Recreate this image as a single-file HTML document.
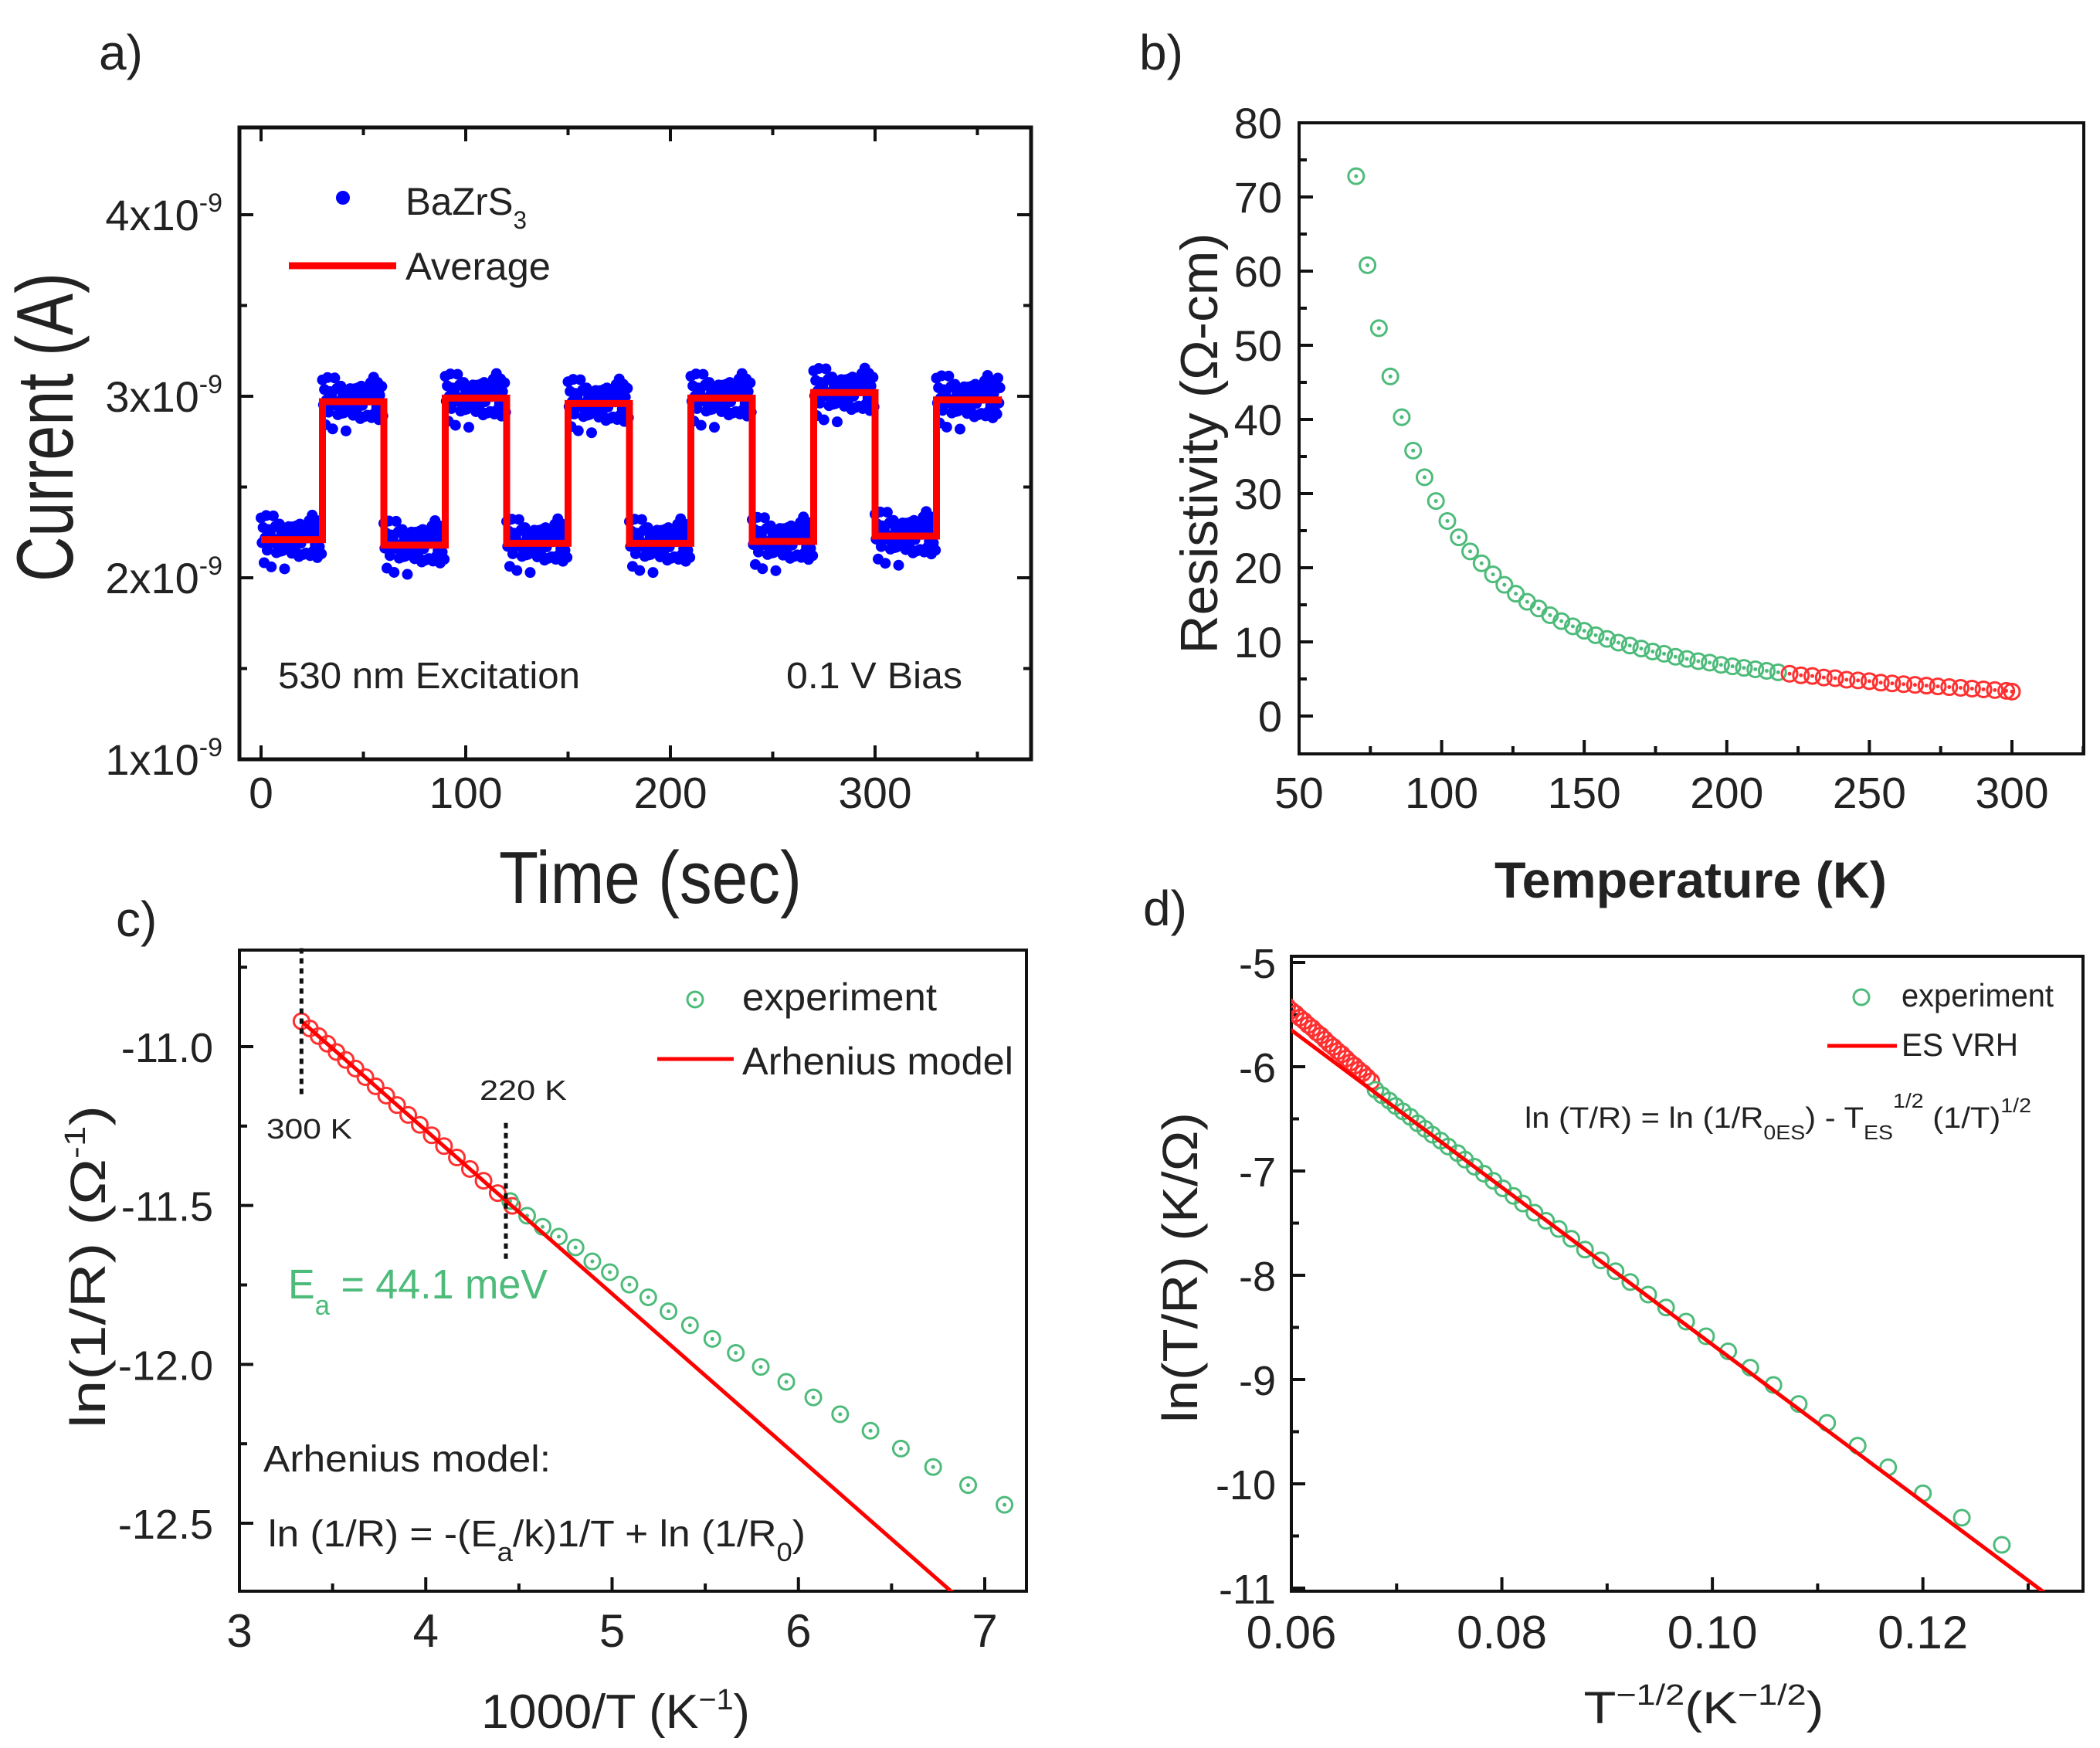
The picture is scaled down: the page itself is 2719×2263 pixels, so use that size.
<!DOCTYPE html>
<html><head><meta charset="utf-8"><style>
html,body{margin:0;padding:0;background:#fff}
svg{display:block}
text{font-family:"Liberation Sans",Arial,sans-serif;fill:#222}
</style></head><body>
<svg id="fig" xmlns="http://www.w3.org/2000/svg" width="2719" height="2263" viewBox="0 0 2719 2263">
<defs>
<clipPath id="clipC"><rect x="310" y="1230" width="1019" height="830"/></clipPath>
<clipPath id="clipD"><rect x="1672" y="1238" width="1025" height="822"/></clipPath>
</defs>
<rect width="2719" height="2263" fill="#fff"/>

<g>
<text x="128" y="90" font-size="64">a)</text>
<g font-size="56" text-anchor="end">
<text x="288" y="298">4x10<tspan font-size="34" dy="-24">-9</tspan></text>
<text x="288" y="533">3x10<tspan font-size="34" dy="-24">-9</tspan></text>
<text x="288" y="768">2x10<tspan font-size="34" dy="-24">-9</tspan></text>
<text x="288" y="1003">1x10<tspan font-size="34" dy="-24">-9</tspan></text>
</g>
<g font-size="57" text-anchor="middle">
<text x="338" y="1046">0</text><text x="603" y="1046">100</text><text x="868" y="1046">200</text><text x="1133" y="1046">300</text>
</g>
<text transform="translate(94,553) rotate(-90)" text-anchor="middle" font-size="104" textLength="400" lengthAdjust="spacingAndGlyphs">Current (A)</text>
<text x="842" y="1169" text-anchor="middle" font-size="96" textLength="392" lengthAdjust="spacingAndGlyphs">Time (sec)</text>
<circle cx="444" cy="256" r="9" fill="#0000ff"/>
<text x="525" y="278" font-size="50" textLength="157" lengthAdjust="spacingAndGlyphs">BaZrS<tspan font-size="32" baseline-shift="sub">3</tspan></text>
<line x1="374" y1="344" x2="513" y2="344" stroke="#ff0000" stroke-width="9"/>
<text x="525" y="362" font-size="50" textLength="188" lengthAdjust="spacingAndGlyphs">Average</text>
<text x="360" y="891" font-size="48" textLength="391" lengthAdjust="spacingAndGlyphs">530 nm Excitation</text>
<text x="1018" y="891" font-size="48" textLength="228" lengthAdjust="spacingAndGlyphs">0.1 V Bias</text>
</g>

<g>
<text x="1475" y="90" font-size="64">b)</text>
<text transform="translate(1576,574) rotate(-90)" text-anchor="middle" font-size="68" textLength="545" lengthAdjust="spacingAndGlyphs">Resistivity (Ω-cm)</text>
<text x="2189" y="1162" text-anchor="middle" font-size="66" font-weight="bold" textLength="508" lengthAdjust="spacingAndGlyphs" fill="#222">Temperature (K)</text>
</g>

<g>
<text x="150" y="1212" font-size="64">c)</text>
<text transform="translate(136,1640) rotate(-90)" text-anchor="middle" font-size="64" textLength="418" lengthAdjust="spacingAndGlyphs">ln(1/R) (Ω<tspan font-size="38" dy="-26">-1</tspan><tspan dy="26">)</tspan></text>
<text x="797" y="2237" text-anchor="middle" font-size="62" textLength="348" lengthAdjust="spacingAndGlyphs">1000/T (K<tspan font-size="38" dy="-24">−1</tspan><tspan dy="24">)</tspan></text>
<text x="345" y="1474" font-size="36" textLength="111" lengthAdjust="spacingAndGlyphs">300 K</text>
<text x="621" y="1424" font-size="36" textLength="113" lengthAdjust="spacingAndGlyphs">220 K</text>
<text x="373" y="1681" font-size="54" fill="#4dbb7a" style="fill:#4dbb7a" textLength="336" lengthAdjust="spacingAndGlyphs">E<tspan font-size="36" baseline-shift="sub">a</tspan> = 44.1 meV</text>
<text x="341" y="1905" font-size="48" textLength="372" lengthAdjust="spacingAndGlyphs">Arhenius model:</text>
<text x="347" y="2002" font-size="48" textLength="696" lengthAdjust="spacingAndGlyphs">ln (1/R) = -(E<tspan font-size="34" baseline-shift="sub">a</tspan>/k)1/T + ln (1/R<tspan font-size="34" baseline-shift="sub">0</tspan>)</text>
<circle cx="900" cy="1294" r="10" fill="none" stroke="#4dbb7a" stroke-width="3"/>
<circle cx="900" cy="1294" r="2.5" fill="#4dbb7a"/>
<text x="961" y="1308" font-size="50" textLength="252" lengthAdjust="spacingAndGlyphs">experiment</text>
<line x1="851" y1="1371" x2="950" y2="1371" stroke="#ff0000" stroke-width="5"/>
<text x="961" y="1391" font-size="50" textLength="351" lengthAdjust="spacingAndGlyphs">Arhenius model</text>
</g>

<g>
<text x="1480" y="1198" font-size="64">d)</text>
<text transform="translate(1550,1641) rotate(-90)" text-anchor="middle" font-size="64" textLength="402" lengthAdjust="spacingAndGlyphs">ln(T/R) (K/Ω)</text>
<text x="2206" y="2231" text-anchor="middle" font-size="58" textLength="311" lengthAdjust="spacingAndGlyphs">T<tspan font-size="38" dy="-24">−1/2</tspan><tspan dy="24">(K</tspan><tspan font-size="38" dy="-24">−1/2</tspan><tspan dy="24">)</tspan></text>
<circle cx="2410" cy="1291" r="10" fill="none" stroke="#4dbb7a" stroke-width="3"/>
<text x="2462" y="1303" font-size="42" textLength="197" lengthAdjust="spacingAndGlyphs">experiment</text>
<line x1="2366" y1="1354" x2="2456" y2="1354" stroke="#ff0000" stroke-width="5"/>
<text x="2462" y="1367" font-size="42" textLength="151" lengthAdjust="spacingAndGlyphs">ES VRH</text>
<text x="1974" y="1460" font-size="38" textLength="656" lengthAdjust="spacingAndGlyphs">ln (T/R) = ln (1/R<tspan font-size="26" baseline-shift="sub">0ES</tspan>) - T<tspan font-size="26" baseline-shift="sub">ES</tspan><tspan font-size="26" dy="-26">1/2</tspan><tspan dy="26"> (1/T)</tspan><tspan font-size="26" dy="-20">1/2</tspan></text>
</g>
</svg>
<script>
// ---------- Panel a data ----------
const aSegStart = [0,30,60,90,120,150,180,210,240,270,300,330];
const aLevels = [2.21,2.97,2.18,2.99,2.19,2.96,2.19,2.99,2.20,3.02,2.23,2.98];
const aJitter = [0.08,-0.03,0.05,-0.09,0.02,0.11,-0.06,0.04,-0.02,0.07,-0.1,0.01,0.09,-0.05,0.03,-0.08,0.06,-0.01,0.1,-0.04,0.02,-0.07,0.05,-0.11,0.08,0.0,-0.06,0.04,-0.03,0.07,-0.05,0.09,-0.02,0.06,-0.09,0.03,0.0,-0.07,0.1,-0.04,0.05,-0.1,0.02,0.08,-0.06,0.04,-0.01,0.07,-0.08,0.03,0.09,-0.05,0.01,-0.03,0.06,-0.09,0.04,-0.02,0.08,-0.06];
const aTimeEnd = 362;
const aXTicks = [0,100,200,300];
const aXMinor = [50,150,250,350];
const aYTicks = [1,2,3,4];
const aYMinor = [1.5,2.5,3.5];
// ---------- Panel b data ----------
const bTemp = [70,74,78,82,86,90,94,98,102,106,110,114,118,122,126,130,134,138,142,146,150,154,158,162,166,170,174,178,182,186,190,194,198,202,206,210,214,218,222,226,230,234,238,242,246,250,254,258,262,266,270,274,278,282,286,290,294,298,300];
const bRho = [72.8,60.8,52.3,45.8,40.3,35.8,32.2,29.0,26.3,24.1,22.2,20.6,19.1,17.7,16.5,15.4,14.5,13.6,12.8,12.1,11.5,10.9,10.4,9.9,9.5,9.1,8.7,8.4,8.0,7.7,7.4,7.2,6.9,6.7,6.5,6.3,6.1,5.9,5.7,5.5,5.4,5.2,5.1,4.9,4.8,4.7,4.5,4.4,4.3,4.2,4.1,4.0,3.9,3.8,3.7,3.6,3.5,3.4,3.3];
const bSplitT = 220;
const bXTicks = [50,100,150,200,250,300];
const bXMinor = [75,125,175,225,275,325];
const bYTicks = [0,10,20,30,40,50,60,70,80];
const bYMinor = [5,15,25,35,45,55,65,75];
// ---------- Panel c data ----------
const cRedX = [3.333,3.378,3.425,3.472,3.521,3.571,3.623,3.676,3.731,3.788,3.846,3.906,3.968,4.032,4.098,4.167,4.237,4.310,4.386,4.464];
const cRedY = [-10.92,-10.943,-10.967,-10.991,-11.017,-11.042,-11.069,-11.096,-11.125,-11.154,-11.184,-11.215,-11.246,-11.279,-11.313,-11.349,-11.385,-11.422,-11.461,-11.501];
const cGreenX = [4.453,4.544,4.627,4.714,4.804,4.894,4.988,5.093,5.194,5.303,5.418,5.538,5.664,5.798,5.935,6.080,6.224,6.387,6.550,6.723,6.911,7.106];
const cGreenY = [-11.486,-11.532,-11.567,-11.598,-11.632,-11.676,-11.710,-11.749,-11.789,-11.833,-11.877,-11.920,-11.964,-12.008,-12.055,-12.104,-12.157,-12.209,-12.265,-12.323,-12.380,-12.442];
const cFitX = [3.333,6.85];
const cFitY = [-10.92,-12.73];
const cMarkX = [3.333,4.43];
const cMarkYTop = [-10.69,-11.24];
const cMarkYBot = [-11.15,-11.68];
const cXTicks = [3,4,5,6,7];
const cXMinor = [3.5,4.5,5.5,6.5];
const cYTicks = [-11.0,-11.5,-12.0,-12.5];
const cYLabels = ["-11.0","-11.5","-12.0","-12.5"];
const cYMinor = [-10.75,-11.25,-11.75,-12.25];
// ---------- Panel d data ----------
const dRedX = [0.0596,0.0600,0.0604,0.0608,0.0612,0.0616,0.0620,0.0624,0.0628,0.0632,0.0636,0.0640,0.0644,0.0648,0.0652,0.0656,0.0660,0.0664,0.0668,0.0672,0.0676];
const dRedY = [-5.42,-5.46,-5.49,-5.53,-5.56,-5.60,-5.63,-5.67,-5.70,-5.74,-5.78,-5.81,-5.85,-5.88,-5.92,-5.96,-5.99,-6.03,-6.06,-6.10,-6.14];
const dGreenX = [0.1275,0.1237,0.1200,0.1167,0.1138,0.1109,0.1082,0.1058,0.1036,0.1015,0.0994,0.0975,0.0956,0.0939,0.0922,0.0908,0.0894,0.0879,0.0866,0.0854,0.0842,0.0831,0.0820,0.0811,0.0801,0.0792,0.0783,0.0774,0.0765,0.0758,0.0749,0.0742,0.0734,0.0727,0.0720,0.0713,0.0706,0.0699,0.0693,0.0686,0.0680];
const dGreenY = [-10.585,-10.325,-10.091,-9.842,-9.634,-9.416,-9.234,-9.052,-8.886,-8.730,-8.585,-8.444,-8.309,-8.185,-8.065,-7.961,-7.857,-7.754,-7.650,-7.556,-7.478,-7.400,-7.312,-7.239,-7.167,-7.094,-7.026,-6.959,-6.891,-6.829,-6.766,-6.709,-6.652,-6.595,-6.543,-6.481,-6.429,-6.377,-6.325,-6.273,-6.221];
const dFitX = [0.0595,0.1335];
const dFitY = [-5.611,-11.191];
const dXTicks = [0.06,0.08,0.10,0.12];
const dXLabels = ["0.06","0.08","0.10","0.12"];
const dXMinor = [0.07,0.09,0.11,0.13];
const dYTicks = [-5,-6,-7,-8,-9,-10,-11];
const dYMinor = [-5.5,-6.5,-7.5,-8.5,-9.5,-10.5];

const NS = "http://www.w3.org/2000/svg";
const svg = document.getElementById('fig');
function mk(tag, attrs, parent, name) {
  const el = document.createElementNS(NS, tag);
  for (const k in attrs) el.setAttribute(k, attrs[k]);
  
  
  (parent || svg).appendChild(el);
  return el;
}
function lin(d0, d1, r0, r1) { return v => r0 + (v - d0) * (r1 - r0) / (d1 - d0); }

function axisFrame(name, x0, y0, x1, y1, sw) {
  const g = mk('g', {}, svg, name + '-axes');
  mk('rect', {x:x0, y:y0, width:x1-x0, height:y1-y0, fill:'none', stroke:'#111', 'stroke-width':sw}, g, name + '-frame');
  return g;
}
function ticks(g, name, box, xs, ys, xTicks, xMinor, yTicks, yMinor, allSides) {
  const [x0,y0,x1,y1] = box;
  const M = 18, m = 10, sw = 4;
  xTicks.forEach(v => {
    mk('line', {x1:xs(v), x2:xs(v), y1:y1, y2:y1-M, stroke:'#111','stroke-width':sw}, g, name+'-x-major-tick');
    if (allSides) mk('line', {x1:xs(v), x2:xs(v), y1:y0, y2:y0+M, stroke:'#111','stroke-width':sw}, g, name+'-x-top-tick');
  });
  xMinor.forEach(v => {
    if (xs(v) > x1) return;
    mk('line', {x1:xs(v), x2:xs(v), y1:y1, y2:y1-m, stroke:'#111','stroke-width':sw}, g, name+'-x-minor-tick');
    if (allSides) mk('line', {x1:xs(v), x2:xs(v), y1:y0, y2:y0+m, stroke:'#111','stroke-width':sw}, g, name+'-x-top-minor-tick');
  });
  yTicks.forEach(v => {
    mk('line', {x1:x0, x2:x0+M, y1:ys(v), y2:ys(v), stroke:'#111','stroke-width':sw}, g, name+'-y-major-tick');
    if (allSides) mk('line', {x1:x1, x2:x1-M, y1:ys(v), y2:ys(v), stroke:'#111','stroke-width':sw}, g, name+'-y-right-tick');
  });
  yMinor.forEach(v => {
    mk('line', {x1:x0, x2:x0+m, y1:ys(v), y2:ys(v), stroke:'#111','stroke-width':sw}, g, name+'-y-minor-tick');
    if (allSides) mk('line', {x1:x1, x2:x1-m, y1:ys(v), y2:ys(v), stroke:'#111','stroke-width':sw}, g, name+'-y-right-minor-tick');
  });
}
function label(g, name, x, y, str, size, anchor) {
  const t = mk('text', {x:x, y:y, 'font-size':size, 'text-anchor':anchor}, g, name);
  t.textContent = str;
  return t;
}
function ring(g, name, cx, cy, color, dot) {
  mk('circle', {cx:cx, cy:cy, r:10, fill:'none', stroke:color, 'stroke-width':3}, g, name);
  if (dot) mk('circle', {cx:cx, cy:cy, r:2.5, fill:color}, g, name + '-center');
}

// ---------- Panel a ----------
(function(){
  const ax = lin(0, 300, 338, 1133), ay = lin(1, 4, 983, 278);
  const g = axisFrame('a', 310, 165, 1335, 983, 5);
  ticks(g, 'a', [310,165,1335,983], ax, ay, aXTicks, aXMinor, aYTicks, aYMinor, true);
  const dots = mk('g', {}, svg, 'a-bazrs3-series');
  for (let i = 0; i * 0.5 <= aTimeEnd - 1; i++) {
    const t = i * 0.5;
    let s = Math.min(aLevels.length - 1, Math.floor(t / 30));
    const v = aLevels[s] + aJitter[i % aJitter.length] * 1.1 + aJitter[(i * 7) % aJitter.length] * 0.4;
    mk('circle', {cx:ax(t), cy:ay(v), r:7, fill:'#0000ff'}, dots, 'a-data-point');
  }
  let d = '';
  aLevels.forEach((lv, i) => {
    const xs = ax(aSegStart[i]);
    const xe = ax(i + 1 < aSegStart.length ? aSegStart[i+1] : aTimeEnd);
    d += (i === 0 ? 'M' : 'L') + xs + ',' + ay(lv) + ' L' + xe + ',' + ay(lv) + ' ';
  });
  mk('path', {d:d, fill:'none', stroke:'#ff0000', 'stroke-width':9, 'stroke-linejoin':'miter'}, svg, 'a-average-line');
})();

// ---------- Panel b ----------
(function(){
  const bx = lin(50, 300, 1682, 2605), by = lin(0, 80, 927, 159);
  const g = axisFrame('b', 1682, 159, 2698, 976, 4);
  ticks(g, 'b', [1682,159,2698,976], bx, by, bXTicks, bXMinor, bYTicks, bYMinor, false);
  const lg = mk('g', {}, svg, 'b-tick-labels');
  bXTicks.forEach(v => label(lg, 'b-x-tick-label', bx(v), 1046, String(v), 57, 'middle'));
  bYTicks.forEach(v => label(lg, 'b-y-tick-label', 1660, by(v) + 20, String(v), 56, 'end'));
  const s = mk('g', {}, svg, 'b-resistivity-series');
  bTemp.forEach((T, i) => {
    ring(s, T <= bSplitT ? 'b-point-green' : 'b-point-red', bx(T), by(bRho[i]), T <= bSplitT ? '#4dbb7a' : '#ff3030', true);
  });
})();

// ---------- Panel c ----------
(function(){
  const cx = lin(3, 7, 310, 1275), cy = lin(-11, -12.5, 1355, 1972);
  const g = axisFrame('c', 310, 1230, 1329, 2060, 4);
  ticks(g, 'c', [310,1230,1329,2060], cx, cy, cXTicks, cXMinor, cYTicks, cYMinor, false);
  const lg = mk('g', {}, svg, 'c-tick-labels');
  cXTicks.forEach(v => label(lg, 'c-x-tick-label', cx(v), 2132, String(v), 60, 'middle'));
  cYTicks.forEach((v, i) => label(lg, 'c-y-tick-label', 276, cy(v) + 20, cYLabels[i], 54, 'end'));
  const clip = mk('g', {'clip-path':'url(#clipC)'}, svg, 'c-plot-area');
  const red = mk('g', {}, clip, 'c-series-high-temp');
  cRedX.forEach((x, i) => ring(red, 'c-point-red', cx(x), cy(cRedY[i]), '#ff3030', false));
  const gr = mk('g', {}, clip, 'c-series-experiment');
  cGreenX.forEach((x, i) => ring(gr, 'c-point-green', cx(x), cy(cGreenY[i]), '#4dbb7a', true));
  mk('line', {x1:cx(cFitX[0]), y1:cy(cFitY[0]), x2:cx(cFitX[1]), y2:cy(cFitY[1]), stroke:'#ff0000', 'stroke-width':5}, clip, 'c-arrhenius-fit-line');
  cMarkX.forEach((x, i) => {
    mk('line', {x1:cx(x), x2:cx(x), y1:cy(cMarkYTop[i]), y2:cy(cMarkYBot[i]), stroke:'#111', 'stroke-width':5, 'stroke-dasharray':'7 6'}, svg, 'c-temperature-marker');
  });
})();

// ---------- Panel d ----------
(function(){
  const dx = lin(0.06, 0.12, 1672, 2489.7), dy = lin(-5, -11, 1246, 2056);
  const g = axisFrame('d', 1672, 1238, 2697, 2060, 4);
  ticks(g, 'd', [1672,1238,2697,2060], dx, dy, dXTicks, dXMinor, dYTicks, dYMinor, false);
  const lg = mk('g', {}, svg, 'd-tick-labels');
  dXTicks.forEach((v, i) => label(lg, 'd-x-tick-label', dx(v), 2134, dXLabels[i], 60, 'middle'));
  dYTicks.forEach(v => label(lg, 'd-y-tick-label', 1652, dy(v) + 20, String(v), 54, 'end'));
  const clip = mk('g', {'clip-path':'url(#clipD)'}, svg, 'd-plot-area');
  const red = mk('g', {}, clip, 'd-series-high-temp');
  dRedX.forEach((x, i) => ring(red, 'd-point-red', dx(x), dy(dRedY[i]), '#ff3030', false));
  const gr = mk('g', {}, clip, 'd-series-experiment');
  dGreenX.forEach((x, i) => ring(gr, 'd-point-green', dx(x), dy(dGreenY[i]), '#4dbb7a', false));
  mk('line', {x1:dx(dFitX[0]), y1:dy(dFitY[0]), x2:dx(dFitX[1]), y2:dy(dFitY[1]), stroke:'#ff0000', 'stroke-width':5}, clip, 'd-es-vrh-fit-line');
})();
</script>
</body></html>
